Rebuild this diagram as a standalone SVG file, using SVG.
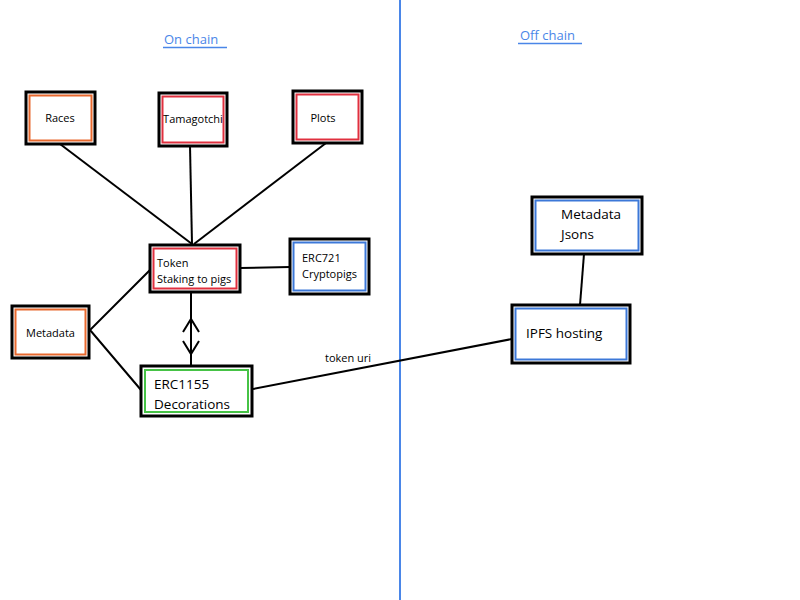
<svg xmlns="http://www.w3.org/2000/svg" width="800" height="600" viewBox="0 0 800 600">
<style>
.outer{fill:#fff;stroke:#000;stroke-width:3}
.in{fill:none;stroke-width:2}
.orange{stroke:#e8692e}
.red{stroke:#e0303f}
.blue{stroke:#3c78d8}
.green{stroke:#46c346}
.t{font-family:"Open Sans","Liberation Sans",sans-serif;fill:#000}
.s{font-size:11px}
.m{font-size:13.5px}
.conn line,.conn polyline{stroke:#000;stroke-width:2;fill:none}
.hdr{font-family:"Open Sans","Liberation Sans",sans-serif;font-size:13px;fill:#4a86e8}
</style>
<rect width="800" height="600" fill="#fff"/>
<line x1="400" y1="0" x2="400" y2="600" stroke="#4a86e8" stroke-width="2"/>
<g id="hdr-on"><text class="hdr" x="164" y="44">On chain</text><line x1="163" y1="47.5" x2="227" y2="47.5" stroke="#4a86e8" stroke-width="1.5"/></g>
<g id="hdr-off"><text class="hdr" x="520" y="40">Off chain</text><line x1="518" y1="43.5" x2="582" y2="43.5" stroke="#4a86e8" stroke-width="1.5"/></g>
<g class="conn">
<line x1="60" y1="144" x2="192" y2="244"/>
<line x1="190" y1="146" x2="192" y2="244"/>
<line x1="326" y1="143" x2="194" y2="244"/>
<line x1="240" y1="268" x2="290" y2="267"/>
<polyline points="150,270 90,330 141,390"/>
<line x1="191" y1="292" x2="191" y2="366"/>
<polyline points="183,332 191,319 199,332"/>
<polyline points="183,341 191,354 199,341"/>
<line x1="253" y1="389" x2="512" y2="339"/>
<line x1="584" y1="254" x2="580" y2="305"/>
<text class="t s" x="325" y="362">token uri</text>
</g>
<g id="races"><rect class="outer" x="26" y="92" width="69" height="52"/><rect class="in orange" x="29.5" y="95.5" width="62" height="45"/><text class="t s" x="60" y="122" text-anchor="middle">Races</text></g>
<g id="tamagotchi"><rect class="outer" x="159" y="93" width="68" height="53"/><rect class="in red" x="162.5" y="96.5" width="61" height="46"/><text class="t s" x="193" y="123" text-anchor="middle">Tamagotchi</text></g>
<g id="plots"><rect class="outer" x="293" y="91" width="69" height="52"/><rect class="in red" x="296.5" y="94.5" width="62" height="45"/><text class="t s" x="323" y="122" text-anchor="middle">Plots</text></g>
<g id="token"><rect class="outer" x="150" y="245" width="90" height="47"/><rect class="in red" x="153.5" y="248.5" width="83" height="40"/><text class="t s" x="157" y="267">Token</text><text class="t s" x="157" y="283">Staking to pigs</text></g>
<g id="erc721"><rect class="outer" x="290" y="239" width="79" height="55"/><rect class="in blue" x="293.5" y="242.5" width="72" height="48"/><text class="t s" x="302" y="262">ERC721</text><text class="t s" x="302" y="278">Cryptopigs</text></g>
<g id="metadata"><rect class="outer" x="12" y="306" width="77" height="52"/><rect class="in orange" x="15.5" y="309.5" width="70" height="45"/><text class="t s" x="26" y="337">Metadata</text></g>
<g id="erc1155"><rect class="outer" x="141" y="366" width="111" height="50"/><rect class="in green" x="145" y="370" width="103" height="42"/><text class="t m" x="154" y="389">ERC1155</text><text class="t m" x="154" y="409">Decorations</text></g>
<g id="metadata-jsons"><rect class="outer" x="532" y="197" width="110" height="57"/><rect class="in blue" x="535.5" y="200.5" width="103" height="50"/><text class="t m" x="561" y="219">Metadata</text><text class="t m" x="561" y="239">Jsons</text></g>
<g id="ipfs"><rect class="outer" x="512" y="305" width="118" height="58"/><rect class="in blue" x="515.5" y="308.5" width="111" height="51"/><text class="t m" x="526" y="338">IPFS hosting</text></g>
</svg>
